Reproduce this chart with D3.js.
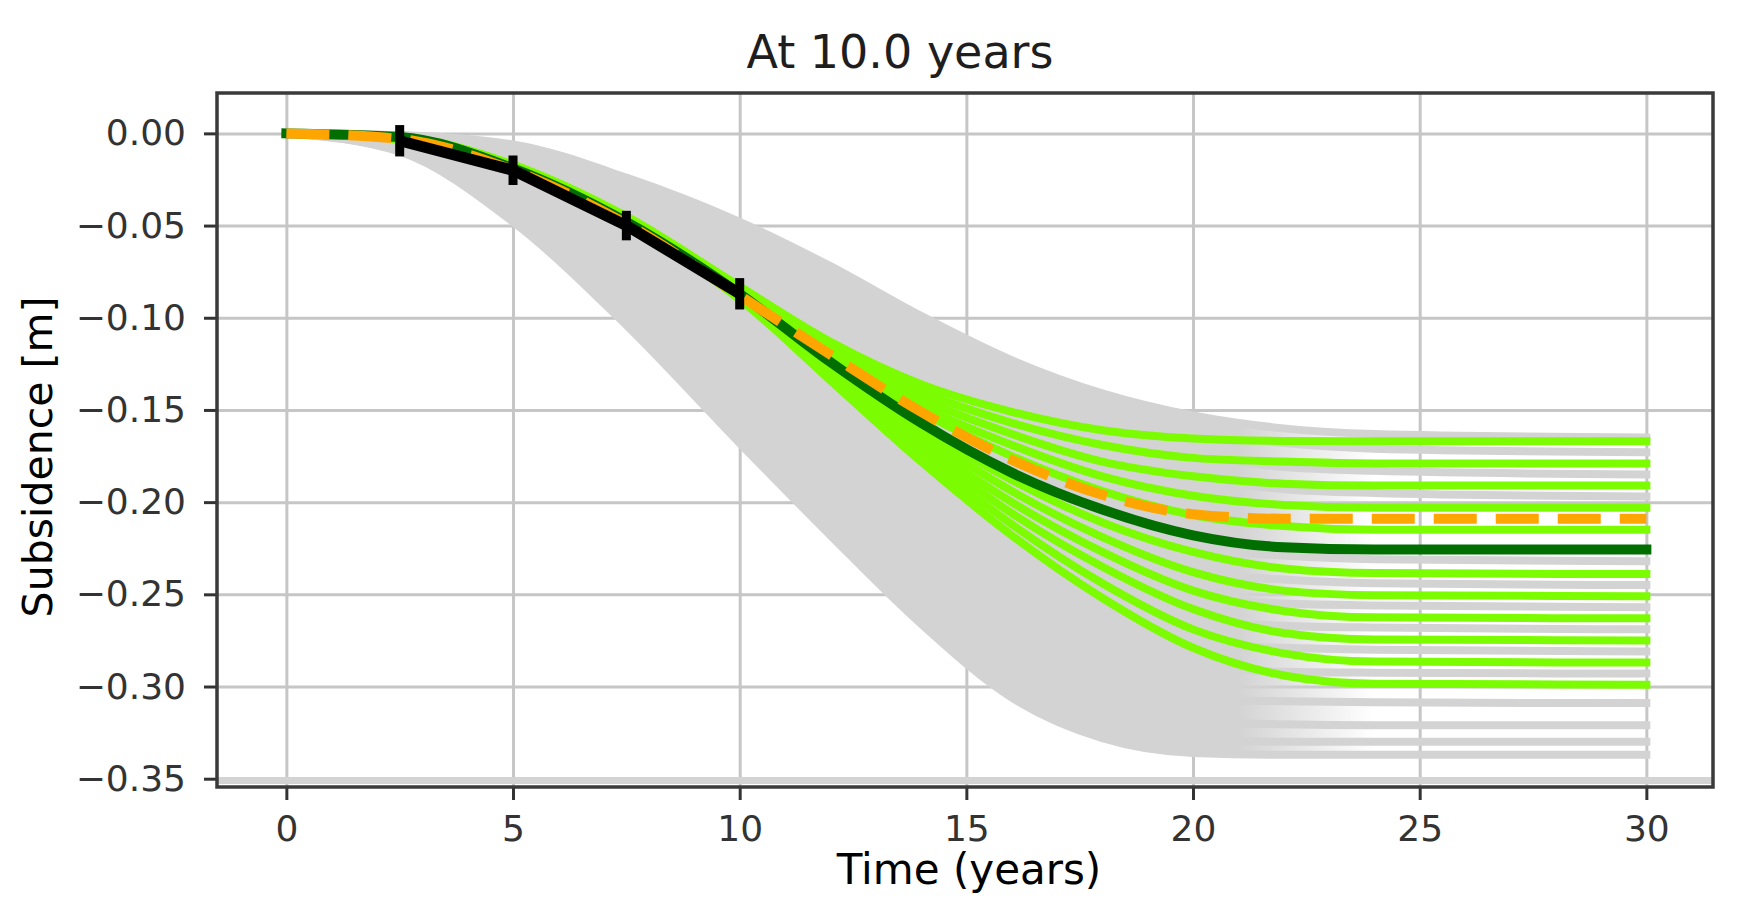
<!DOCTYPE html>
<html>
<head>
<meta charset="utf-8">
<script src="https://cdn.jsdelivr.net/npm/d3@7"></script>
<style>
    body { margin: 0; background: #fff; }
    svg { display: block; font-family: "DejaVu Sans", sans-serif; }
</style>
</head>
<body>
<svg id="chart"></svg>
<script>
// sample times (years) shared by every model run
const years = [0, 2.5, 5, 7.5, 10, 12, 14, 16, 18, 20, 22, 24, 30];

// prior ensemble (grey): outer envelope + a few runs that show up as separate stripes
const priorUpper = [0, -0.001, -0.006, -0.024, -0.048, -0.072, -0.099, -0.123, -0.141, -0.153, -0.160, -0.163, -0.165];
const priorLower = [0, -0.010, -0.048, -0.104, -0.168, -0.218, -0.266, -0.306, -0.328, -0.336, -0.337, -0.337, -0.337];
const priorRuns = [
    [0, -0.001, -0.008, -0.028, -0.054, -0.079, -0.107, -0.132, -0.150, -0.162, -0.168, -0.171, -0.173],
    [0, -0.002, -0.011, -0.033, -0.062, -0.089, -0.119, -0.145, -0.163, -0.174, -0.181, -0.183, -0.185],
    [0, -0.003, -0.014, -0.038, -0.071, -0.100, -0.131, -0.158, -0.176, -0.187, -0.193, -0.195, -0.197],
    [0, -0.004, -0.022, -0.054, -0.096, -0.131, -0.166, -0.196, -0.215, -0.225, -0.229, -0.231, -0.232],
    [0, -0.005, -0.026, -0.059, -0.106, -0.142, -0.179, -0.210, -0.229, -0.238, -0.242, -0.244, -0.245],
    [0, -0.006, -0.029, -0.065, -0.114, -0.152, -0.191, -0.223, -0.242, -0.251, -0.255, -0.256, -0.257],
    [0, -0.006, -0.031, -0.070, -0.123, -0.163, -0.203, -0.236, -0.255, -0.264, -0.267, -0.268, -0.269],
    [0, -0.007, -0.034, -0.075, -0.132, -0.173, -0.214, -0.248, -0.268, -0.277, -0.279, -0.280, -0.281],
    [0, -0.008, -0.037, -0.081, -0.140, -0.184, -0.226, -0.261, -0.282, -0.290, -0.292, -0.2925, -0.293],
    [0, -0.008, -0.041, -0.087, -0.150, -0.196, -0.240, -0.277, -0.298, -0.307, -0.308, -0.3086, -0.309],
    [0, -0.009, -0.044, -0.092, -0.157, -0.205, -0.251, -0.290, -0.311, -0.319, -0.3205, -0.321, -0.321],
    [0, -0.0095, -0.046, -0.095, -0.163, -0.212, -0.259, -0.298, -0.320, -0.328, -0.330, -0.330, -0.330]
];

// runs that still fit the data after 10 years (green)
const acceptedRuns = [
    [0, -0.002, -0.017, -0.045, -0.083, -0.113, -0.136, -0.151, -0.161, -0.1655, -0.1668, -0.167, -0.167],
    [0, -0.002, -0.017, -0.046, -0.084, -0.116, -0.140, -0.157, -0.169, -0.176, -0.178, -0.179, -0.179],
    [0, -0.002, -0.018, -0.046, -0.085, -0.118, -0.144, -0.163, -0.178, -0.186, -0.190, -0.191, -0.191],
    [0, -0.003, -0.018, -0.047, -0.085, -0.120, -0.148, -0.169, -0.186, -0.1965, -0.2015, -0.203, -0.203],
    [0, -0.003, -0.018, -0.047, -0.086, -0.121, -0.151, -0.175, -0.194, -0.207, -0.213, -0.215, -0.215],
    [0, -0.003, -0.019, -0.048, -0.087, -0.125, -0.159, -0.188, -0.211, -0.227, -0.236, -0.2385, -0.239],
    [0, -0.003, -0.019, -0.048, -0.088, -0.127, -0.163, -0.194, -0.219, -0.238, -0.248, -0.2505, -0.251],
    [0, -0.003, -0.019, -0.049, -0.088, -0.129, -0.167, -0.200, -0.227, -0.248, -0.259, -0.2625, -0.263],
    [0, -0.003, -0.020, -0.049, -0.089, -0.130, -0.170, -0.206, -0.235, -0.258, -0.271, -0.2745, -0.275],
    [0, -0.003, -0.020, -0.049, -0.089, -0.132, -0.174, -0.212, -0.244, -0.269, -0.282, -0.2865, -0.287],
    [0, -0.003, -0.020, -0.050, -0.090, -0.134, -0.178, -0.218, -0.252, -0.279, -0.294, -0.2985, -0.299]
];
const acceptedMean = [0, -0.002, -0.019, -0.048, -0.087, -0.124, -0.157, -0.184, -0.204, -0.218, -0.2245, -0.2257, -0.2257];
const truthRun = [0, -0.003, -0.020, -0.049, -0.088, -0.120, -0.151, -0.177, -0.196, -0.2065, -0.209, -0.209, -0.209];

// measurements up to 10 years
const obsYears = [2.5, 5, 7.5, 10];
const obsValues = [-0.004, -0.020, -0.050, -0.087];
const obsErrors = [0.0085, 0.008, 0.008, 0.0085];

const xTicks = [0, 5, 10, 15, 20, 25, 30];
const yTicks = [0, -0.05, -0.10, -0.15, -0.20, -0.25, -0.30, -0.35];
const xDomain = [-1.53, 31.47];
const yDomain = [-0.3545, 0.0219];
const floorLevel = -0.351;
// the solid grey band fades out where the runs flatten and separate
const bandFade = [21, 24];

class SubsidenceChart {

    constructor(_config) {
        this.config = {
            parentElement: _config.parentElement,
            containerWidth: _config.containerWidth || 1741,
            containerHeight: _config.containerHeight || 904,
            margin: { top: 93, bottom: 117, right: 28, left: 217 }
        }
        this.initVis();
    }

    initVis() {
        let vis = this;

        vis.width = vis.config.containerWidth - vis.config.margin.left - vis.config.margin.right;
        vis.height = vis.config.containerHeight - vis.config.margin.top - vis.config.margin.bottom;

        vis.xScale = d3.scaleLinear().domain(xDomain).range([0, vis.width]);
        vis.yScale = d3.scaleLinear().domain(yDomain).range([vis.height, 0]);

        vis.svg = d3.select(vis.config.parentElement)
            .attr('width', vis.config.containerWidth)
            .attr('height', vis.config.containerHeight);

        vis.chart = vis.svg.append('g')
            .attr('transform', `translate(${vis.config.margin.left},${vis.config.margin.top})`);

        // gradient used to fade the grey band out to the right
        const grad = vis.svg.append('defs').append('linearGradient')
            .attr('id', 'band-fade')
            .attr('gradientUnits', 'userSpaceOnUse')
            .attr('x1', vis.xScale(bandFade[0])).attr('x2', vis.xScale(bandFade[1]))
            .attr('y1', 0).attr('y2', 0);
        grad.append('stop').attr('offset', 0).attr('stop-color', '#d3d3d3').attr('stop-opacity', 1);
        grad.append('stop').attr('offset', 1).attr('stop-color', '#d3d3d3').attr('stop-opacity', 0);

        // gridlines first so the runs cover them
        vis.chart.append('g')
            .attr('class', 'grid')
            .attr('transform', `translate(0,${vis.height})`)
            .call(d3.axisBottom(vis.xScale).tickValues(xTicks).tickSize(-vis.height).tickFormat(''));
        vis.chart.append('g')
            .attr('class', 'grid')
            .call(d3.axisLeft(vis.yScale).tickValues(yTicks).tickSize(-vis.width).tickFormat(''));
        vis.chart.selectAll('.grid .domain').remove();
        vis.chart.selectAll('.grid line')
            .attr('stroke', '#c6c6c6')
            .attr('stroke-width', 3);

        vis.renderVis();
    }

    renderVis() {
        let vis = this;

        const line = d3.line()
            .x((d, i) => vis.xScale(years[i]))
            .y(d => vis.yScale(d))
            .curve(d3.curveMonotoneX);

        // solid grey band where the prior runs overlap
        const bandIdx = years.map((t, i) => i).filter(i => years[i] <= bandFade[1]);
        vis.chart.append('path')
            .datum(bandIdx)
            .attr('fill', 'url(#band-fade)')
            .attr('d', d3.area()
                .x(i => vis.xScale(years[i]))
                .y0(i => vis.yScale(priorUpper[i]))
                .y1(i => vis.yScale(priorLower[i]))
                .curve(d3.curveMonotoneX));

        // grey line along the bottom of the axes
        vis.chart.append('line')
            .attr('x1', 0).attr('x2', vis.width)
            .attr('y1', vis.yScale(floorLevel)).attr('y2', vis.yScale(floorLevel))
            .attr('stroke', '#d3d3d3')
            .attr('stroke-width', 7);

        vis.chart.selectAll('.prior-run')
            .data([priorUpper, ...priorRuns, priorLower])
            .join('path')
            .attr('class', 'prior-run')
            .attr('fill', 'none')
            .attr('stroke', '#d3d3d3')
            .attr('stroke-width', 8)
            .attr('stroke-linecap', 'square')
            .attr('d', line);

        vis.chart.selectAll('.accepted-run')
            .data(acceptedRuns)
            .join('path')
            .attr('class', 'accepted-run')
            .attr('fill', 'none')
            .attr('stroke', '#7cfc00')
            .attr('stroke-width', 8)
            .attr('stroke-linecap', 'square')
            .attr('d', line);

        vis.chart.append('path')
            .datum(acceptedMean)
            .attr('fill', 'none')
            .attr('stroke', '#006f00')
            .attr('stroke-width', 10)
            .attr('stroke-linecap', 'square')
            .attr('d', line);

        vis.chart.append('path')
            .datum(truthRun)
            .attr('fill', 'none')
            .attr('stroke', '#ffa500')
            .attr('stroke-width', 10)
            .attr('stroke-dasharray', '43 19')
            .attr('d', line);

        // observations with error bars
        vis.chart.append('path')
            .datum(obsYears.map((t, i) => [t, obsValues[i]]))
            .attr('fill', 'none')
            .attr('stroke', '#000')
            .attr('stroke-width', 11)
            .attr('stroke-linejoin', 'round')
            .attr('d', d3.line()
                .x(d => vis.xScale(d[0]))
                .y(d => vis.yScale(d[1])));

        vis.chart.selectAll('.err-bar')
            .data(obsYears)
            .join('line')
            .attr('class', 'err-bar')
            .attr('x1', d => vis.xScale(d))
            .attr('x2', d => vis.xScale(d))
            .attr('y1', (d, i) => vis.yScale(obsValues[i] + obsErrors[i]))
            .attr('y2', (d, i) => vis.yScale(obsValues[i] - obsErrors[i]))
            .attr('stroke', '#000')
            .attr('stroke-width', 9);

        // axes
        const xAxisG = vis.chart.append('g')
            .attr('class', 'axis x-axis')
            .attr('transform', `translate(0,${vis.height})`)
            .call(d3.axisBottom(vis.xScale).tickValues(xTicks).tickSize(13).tickPadding(15)
                .tickFormat(d3.format('d')));
        const yAxisG = vis.chart.append('g')
            .attr('class', 'axis y-axis')
            .call(d3.axisLeft(vis.yScale).tickValues(yTicks).tickSize(13).tickPadding(18)
                .tickFormat(d3.format('.2f')));

        [xAxisG, yAxisG].forEach(g => {
            g.select('.domain').remove();
            g.selectAll('line').attr('stroke', '#333').attr('stroke-width', 3);
            g.selectAll('text')
                .attr('fill', '#333')
                .style('font-size', '36px')
                .style('font-family', '"DejaVu Sans", sans-serif');
        });

        // frame
        vis.chart.append('rect')
            .attr('width', vis.width)
            .attr('height', vis.height)
            .attr('fill', 'none')
            .attr('stroke', '#3a3a3a')
            .attr('stroke-width', 3.5);

        // titles
        vis.svg.append('text')
            .attr('x', 900)
            .attr('y', 68)
            .attr('text-anchor', 'middle')
            .attr('fill', '#1e1e1e')
            .style('font-size', '46px')
            .text('At 10.0 years');

        vis.svg.append('text')
            .attr('x', 969)
            .attr('y', 884)
            .attr('text-anchor', 'middle')
            .attr('fill', '#000')
            .style('font-size', '42px')
            .text('Time (years)');

        vis.svg.append('text')
            .attr('transform', 'translate(52,457) rotate(-90)')
            .attr('text-anchor', 'middle')
            .attr('fill', '#000')
            .style('font-size', '41px')
            .text('Subsidence [m]');
    }
}

new SubsidenceChart({ parentElement: '#chart' });
</script>
</body>
</html>
